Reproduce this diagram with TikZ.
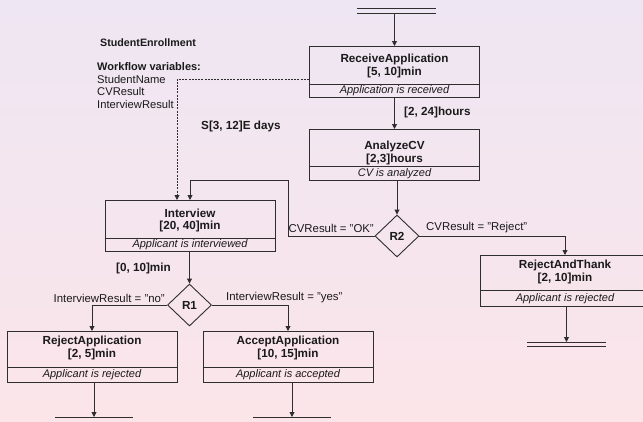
\documentclass[tikz,border=0pt]{standalone}
\usepackage{fontspec}
\setmainfont{Liberation Sans}
\usetikzlibrary{arrows.meta,shapes.geometric,calc}
\definecolor{bgtop}{HTML}{EEE6F3}
\definecolor{bgbot}{HTML}{FBE5E9}
\definecolor{ln}{HTML}{2E2E2E}
\definecolor{tx}{HTML}{1A1A1A}
\tikzset{
  actbox/.style={draw=ln, line width=0.9pt, minimum width=170pt, minimum height=51pt, inner sep=0pt, anchor=north},
  sepline/.style={draw=ln, line width=0.7pt},
  ttl/.style={font=\fontsize{11.7}{14}\selectfont\bfseries, text=tx, inner sep=0pt},
  dsc/.style={font=\fontsize{11}{13}\selectfont\itshape, text=tx, inner sep=0pt},
  lbl/.style={font=\fontsize{11.4}{13}\selectfont, text=tx, inner sep=0pt},
  blbl/.style={font=\fontsize{11.7}{14}\selectfont\bfseries, text=tx, inner sep=0pt},
  arr/.style={draw=ln, line width=0.9pt, -{Triangle[length=5pt,width=5pt]}},
  darr/.style={arr, dash pattern=on 2pt off 1.2pt},
  dec/.style={diamond, draw=ln, line width=0.9pt, minimum width=44pt, minimum height=42pt, inner sep=0pt, aspect=1, font=\fontsize{11.7}{14}\selectfont\bfseries, text=tx},
  termline/.style={draw=ln, line width=0.9pt},
}
% #1 name, #2 cx, #3 top, #4 separator offset, #5 title offset, #6 title, #7 time, #8 description
\newcommand\ActBox[8]{%
  \node[actbox] (#1) at (#2,#3) {};
  \draw[sepline] ([yshift=-#4pt]#1.north west) -- ([yshift=-#4pt]#1.north east);
  \node[ttl] (#1-t) at ([yshift=-#5pt]#1.north) {#6};
  \node[ttl] (#1-d) at ([yshift=-#5pt-13pt]#1.north) {#7};
  \node[dsc] (#1-s) at ($(#1.south)!0.5!([yshift=-#4pt]#1.north)$) {#8};
}
\begin{document}
\begin{tikzpicture}[x=1pt,y=-1pt]
\useasboundingbox (0,0) rectangle (643,421);
\shade[top color=bgtop, bottom color=bgbot] (0,0) rectangle (643,421);

% activities
\ActBox{ra}{394.5}{46}{38}{13.5}{ReceiveApplication}{[5, 10]min}{Application is received}
\ActBox{ac}{394.5}{129}{37.5}{17}{AnalyzeCV}{[2,3]hours}{CV is analyzed}
\ActBox{iv}{190}{200}{38}{13}{Interview}{[20, 40]min}{Applicant is interviewed}
\ActBox{rj}{92}{331}{36}{10.5}{RejectApplication}{[2, 5]min}{Applicant is rejected}
\ActBox{aa}{288}{331}{36}{10.5}{AcceptApplication}{[10, 15]min}{Applicant is accepted}
\ActBox{rt}{565}{255}{35}{10.5}{RejectAndThank}{[2, 10]min}{Applicant is rejected}

% decisions
\node[dec] (r2) at (397,236) {R2};
\node[dec] (r1) at (189.5,305) {R1};

% start / end bars
\coordinate (st) at (396.5,13);
\draw[termline] ([xshift=-39.5pt]st) -- ([xshift=39.5pt]st);
\draw[termline] ([xshift=-39.5pt,yshift=5pt]st) -- ([xshift=39.5pt,yshift=5pt]st);
\coordinate (et) at (566.5,342);
\draw[termline] ([xshift=-39.5pt]et) -- ([xshift=39.5pt]et);
\draw[termline] ([xshift=-39.5pt,yshift=-4pt]et) -- ([xshift=39.5pt,yshift=-4pt]et);
\coordinate (e1) at (94,417);
\draw[termline] ([xshift=-39pt]e1) -- ([xshift=39pt]e1);
\coordinate (e2) at (292,417);
\draw[termline] ([xshift=-39pt]e2) -- ([xshift=39pt]e2);

% connectors
\coordinate (k1) at (288,180);
\draw[arr] (st -| ra.north) -- (ra.north);
\draw[arr] (ra.south) -- (ac.north);
\draw[arr] (r2 |- ac.south) -- (r2.north);
\draw[arr] (r2.east) -| (rt.north);
\draw[arr] (r2.west) -| (k1) -| (iv.north);
\draw[darr] ([yshift=-7.5pt]ra.west) -| ([xshift=-13pt]iv.north);
\draw[arr] (r1 |- iv.south) -- (r1.north);
\draw[arr] (r1.west) -| (rj.north);
\draw[arr] (r1.east) -| (aa.north);
\draw[arr] (e1 |- rj.south) -- (e1);
\draw[arr] (e2 |- aa.south) -- (e2);
\draw[arr] (et |- rt.south) -- (et);

% labels
\node[blbl, anchor=west] (l1) at (404,112) {[2, 24]hours};
\node[lbl, anchor=west] (l2) at (426,228) {CVResult = "Reject"};
\node[lbl, anchor=east] (l3) at (374,228) {CVResult = "OK"};
\node[blbl, anchor=east] (l4) at (171,268) {[0, 10]min};
\node[lbl, anchor=east] (l5) at (165,298) {InterviewResult = "no"};
\node[lbl, anchor=west] (l6) at (226,298) {InterviewResult = "yes"};
\node[blbl, anchor=west] (l7) at (201,126) {S[3, 12]E days};

% header texts
\node[blbl, anchor=west, font=\fontsize{10.7}{13}\selectfont\bfseries] (h1) at (100,43) {StudentEnrollment};
\node[blbl, anchor=west, font=\fontsize{11}{13}\selectfont\bfseries] (h2) at (97,67) {Workflow variables:};
\node[lbl, anchor=west, font=\fontsize{11.2}{13}\selectfont] (v1) at (97,79.5) {StudentName};
\node[lbl, anchor=west, font=\fontsize{11.2}{13}\selectfont] (v2) at (97,91.5) {CVResult};
\node[lbl, anchor=west, font=\fontsize{11.2}{13}\selectfont] (v3) at (97,104) {InterviewResult};
\end{tikzpicture}
\end{document}
